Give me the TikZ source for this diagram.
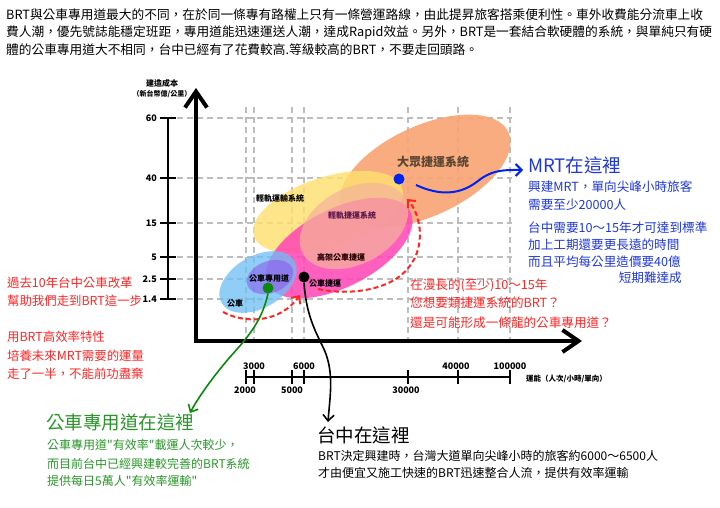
\documentclass[tikz,border=0pt]{standalone}
\usepackage{fontspec}
\setmainfont{Noto Sans CJK TC}[Ligatures=TeXOff]
\usetikzlibrary{arrows.meta}
\newcommand{\fsz}[1]{\fontsize{#1}{#1}\selectfont}
\definecolor{gridc}{HTML}{BDBDBD}
\definecolor{ora}{HTML}{F8A472}
\definecolor{yel}{HTML}{FFE070}
\definecolor{mag}{HTML}{FF45B5}
\definecolor{sal}{HTML}{F4B49A}
\definecolor{blu}{HTML}{6CBEF6}
\definecolor{pur}{HTML}{8A55EE}
\definecolor{redt}{HTML}{FF2626}
\definecolor{bluet}{HTML}{2038D8}
\definecolor{greent}{HTML}{2A962A}
\definecolor{dotb}{HTML}{0024EE}
\definecolor{dotg}{HTML}{0A8A0A}
\definecolor{brownt}{HTML}{5A4632}
\definecolor{purt}{HTML}{5A1848}
\tikzset{
  txt/.style={anchor=west, inner sep=0pt},
  gridline/.style={gridc, line width=1.2pt, dash pattern=on 6pt off 4pt},
  axisline/.style={line width=4pt, -{Straight Barb[length=16pt,width=22pt]}},
  scaleline/.style={line width=2pt},
  lbl/.style={inner sep=0pt, font=\fsz{8}\bfseries},
  ticklbl/.style={inner sep=0pt, font=\fsz{9}\bfseries},
  dotnode/.style={circle, minimum size=11pt, inner sep=0pt},
  bluearr/.style={dotb, line width=2pt, -{Straight Barb[length=6pt,width=12pt]}},
  redarr/.style={redt, line width=2pt, dash pattern=on 5pt off 3pt, -{Straight Barb[length=6pt,width=11pt]}},
  greenarr/.style={dotg, line width=1.6pt, -{Straight Barb[length=6pt,width=11pt]}},
  blackarr/.style={black, line width=1.6pt, -{Straight Barb[length=6pt,width=11pt]}},
}
\begin{document}
\begin{tikzpicture}[x=1pt,y=-1pt]
\fill[white] (0,0) rectangle (720,508);
\useasboundingbox (0,0) rectangle (720,508);

% top paragraph
\node[txt, font=\fsz{12.7}] (p1) at (6,15) {BRT與公車專用道最大的不同，在於同一條專有路權上只有一條營運路線，由此提昇旅客搭乘便利性。車外收費能分流車上收};
\node[txt, font=\fsz{12.7}] (p2) at (6,33) {費人潮，優先號誌能穩定班距，專用道能迅速運送人潮，達成Rapid效益。另外，BRT是一套結合軟硬體的系統，與單純只有硬};
\node[txt, font=\fsz{12.7}] (p3) at (6,50) {體的公車專用道大不相同，台中已經有了花費較高.等級較高的BRT，不要走回頭路。};

% grid
\foreach \y in {118,178,223,257,279,299} \draw[gridline] (177,\y) -- (512,\y);
\foreach \x in {246,254,292,304,408,458,510} \draw[gridline] (\x,107) -- (\x,341);

% blobs
\fill[ora, opacity=0.9, rotate around={25:(425,171)}] (425,171) ellipse (92 and 45);
\fill[yel, opacity=0.82, rotate around={18:(328,212)}] (328,212) ellipse (78 and 35);
\fill[mag, opacity=0.85, rotate around={27:(339,248)}] (339,248) ellipse (80 and 39);
\fill[sal, opacity=0.72, rotate around={28:(354,226)}] (354,226) ellipse (58 and 38);
\fill[blu, opacity=0.75, rotate around={30:(258,282)}] (258,282) ellipse (42 and 26);
\fill[pur, opacity=0.55, rotate around={20:(270,277)}] (270,277) ellipse (24 and 16);

% axes
\coordinate (O) at (196,341);
\coordinate (ytop) at (196,88);
\coordinate (xend) at (582,341);
\draw[axisline] (196,343) -- (ytop);
\draw[axisline] (194,341) -- (xend);

% y scale
\draw[scaleline] (168,118) -- (168,299);
\foreach \y/\t in {118/60,178/40,223/15,257/5,279/2.5,299/1.4} {
  \draw[scaleline] (160,\y) -- (176,\y);
  \node[ticklbl, anchor=east] (yl\t) at (157,\y) {\t};
}
\node[lbl] (ylab1) at (162,83) {建造成本};
\node[inner sep=0pt, font=\fsz{7}\bfseries] (ylab2) at (162,94) {（新台幣億/公里）};

% x scale
\draw[scaleline] (246,377) -- (510,377);
\foreach \x in {246,254,292,304,408,458,510} \draw[scaleline] (\x,370) -- (\x,384);
\node[ticklbl] (x3000) at (254,366) {3000};
\node[ticklbl] (x6000) at (304,366) {6000};
\node[ticklbl] (x40000) at (456,366) {40000};
\node[ticklbl] (x100000) at (510,366) {100000};
\node[ticklbl] (x2000) at (245,390) {2000};
\node[ticklbl] (x5000) at (292,390) {5000};
\node[ticklbl] (x30000) at (406,390) {30000};
\node[txt, font=\fsz{7.5}\bfseries] (xlab) at (526,379) {運能（人次/小時/單向）};

% blob labels
\node[inner sep=0pt, font=\fsz{12}\bfseries, text=brownt] (mrt) at (433,162) {大眾捷運系統};
\node[lbl] (lrt1) at (280,198) {輕軌運輸系統};
\node[lbl, text=purt] (lrt2) at (352,215) {輕軌捷運系統};
\node[lbl, text=black!85!red] (ebrt) at (341,257) {高架公車捷運};
\node[lbl] (bl) at (269,278) {公車專用道};
\node[lbl] (bus) at (235,303) {公車};
\node[lbl] (brt) at (325,283) {公車捷運};

% dots
\node[dotnode, fill=dotb] (bdot) at (399,179) {};
\node[dotnode, fill=black] (kdot) at (304,277) {};
\node[dotnode, fill=dotg] (gdot) at (268,288) {};

% connectors
\coordinate (bA) at (416,185);
\coordinate (bT) at (523,170);
\draw[bluearr] (bA) .. controls (440,196) and (460,195) .. (478,181) .. controls (493,169) and (506,170) .. (bT);

\coordinate (r1s) at (223,312);
\coordinate (r1t) at (300,295);
\draw[redarr] (r1s) .. controls (245,324) and (280,323) .. (r1t);

\coordinate (r2s) at (318,289);
\coordinate (r2t) at (407,199);
\draw[redarr] (r2s) .. controls (350,296) and (392,290) .. (409,267) .. controls (426,246) and (421,215) .. (r2t);

\coordinate (gT) at (190,413);
\draw[greenarr] (gdot.south) .. controls (262,320) and (250,335) .. (230,357) .. controls (212,378) and (198,398) .. (gT);

\coordinate (kT) at (328,422);
\draw[blackarr] (kdot.south) .. controls (306,310) and (312,325) .. (322,345) .. controls (335,370) and (330,395) .. (kT);

% blue text
\node[txt, font=\fsz{18.5}, text=bluet] (mrtT) at (528,165) {MRT在這裡};
\node[txt, font=\fsz{12.6}, text=bluet] (b1) at (528,187) {興建MRT，單向尖峰小時旅客};
\node[txt, font=\fsz{12.6}, text=bluet] (b2) at (528,205) {需要至少20000人};
\node[txt, font=\fsz{12.6}, text=bluet] (b3) at (528,228) {台中需要10～15年才可達到標準};
\node[txt, font=\fsz{12.6}, text=bluet] (b4) at (528,245) {加上工期還要更長遠的時間};
\node[txt, font=\fsz{12.6}, text=bluet] (b5) at (528,262) {而且平均每公里造價要40億};
\node[inner sep=0pt, anchor=east, font=\fsz{12.6}, text=bluet] (b6) at (682,278) {短期難達成};

% red middle text
\node[txt, font=\fsz{12.6}, text=redt] (m1) at (410,285) {在漫長的(至少)10～15年};
\node[txt, font=\fsz{12.6}, text=redt] (m2) at (410,303) {您想要類捷運系統的BRT？};
\node[txt, font=\fsz{12.6}, text=redt] (m3) at (410,323) {還是可能形成一條龍的公車專用道？};

% red left text
\node[txt, font=\fsz{12.4}, text=redt] (l1) at (7,283) {過去10年台中公車改革};
\node[txt, font=\fsz{12.4}, text=redt] (l2) at (7,301) {幫助我們走到BRT這一步};
\node[txt, font=\fsz{12.4}, text=redt] (l3) at (7,337) {用BRT高效率特性};
\node[txt, font=\fsz{12.4}, text=redt] (l4) at (7,356) {培養未來MRT需要的運量};
\node[txt, font=\fsz{12.4}, text=redt] (l5) at (7,374) {走了一半，不能前功盡棄};

% green text
\node[txt, font=\fsz{18.5}, text=greent] (gT1) at (46,422) {公車專用道在這裡};
\node[txt, font=\fsz{12}, text=greent] (g1) at (47,445) {公車專用道"有效率"載運人次較少，};
\node[txt, font=\fsz{12}, text=greent] (g2) at (47,464) {而目前台中已經興建較完善的BRT系統};
\node[txt, font=\fsz{12}, text=greent] (g3) at (47,481) {提供每日5萬人"有效率運輸"};

% black text
\node[txt, font=\fsz{18.5}] (kT1) at (317,435) {台中在這裡};
\node[txt, font=\fsz{12}] (k1) at (318,456) {BRT決定興建時，台灣大道單向尖峰小時的旅客約6000～6500人};
\node[txt, font=\fsz{12}] (k2) at (318,473) {才由便宜又施工快速的BRT迅速整合人流，提供有效率運輸};
\end{tikzpicture}
\end{document}
